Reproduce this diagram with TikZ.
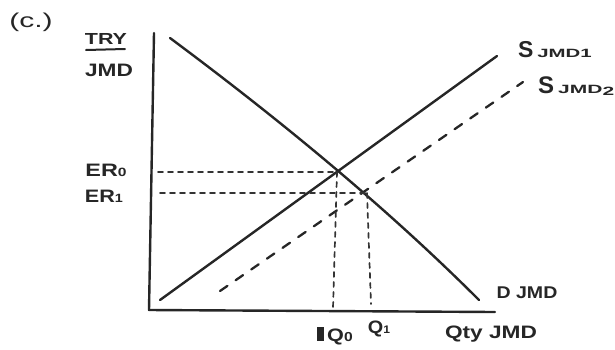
\documentclass[tikz,border=0pt]{standalone}
\usepackage{fontspec}
\setmainfont{Liberation Sans}
\newcommand{\fs}[1]{\fontsize{#1}{#1}\selectfont}
\newcommand{\sx}[2]{\scalebox{#1}[1]{#2}}
\begin{document}
\begin{tikzpicture}[x=1pt,y=-1pt,line cap=round,line join=round,
  curveline/.style={line width=2.4pt,black!85},
  guide/.style={line width=1.7pt,black!80,dash pattern=on 5pt off 5pt},
  shiftline/.style={line width=2.3pt,black!85,dash pattern=on 9pt off 10pt},
  lbl/.style={inner sep=0pt,text=black!85,font=\bfseries}]
\useasboundingbox (0,0) rectangle (615,349);
% axes
\coordinate (ytop) at (154,33);
\coordinate (orig) at (149,310);
\coordinate (xend) at (495,312);
\draw[curveline] (ytop) -- (orig) -- (xend);
% curves
\coordinate (d0) at (170,38);
\coordinate (d1) at (479,300);
\coordinate (s10) at (160,300);
\coordinate (s11) at (497,56);
\coordinate (s20) at (220,291);
\coordinate (s21) at (523,82);
\draw[curveline] (d0) .. controls (291,128) and (394,215) .. (d1);
\draw[curveline] (s10) -- (s11);
\draw[shiftline] (s20) -- (s21);
% equilibrium guides
\coordinate (e0) at (337,172);
\coordinate (e1) at (367,193);
\coordinate (er0) at (158,172);
\coordinate (er1) at (160,193);
\coordinate (q0) at (333,308);
\coordinate (q1) at (371,304);
\draw[guide] (er0) -- (e0);
\draw[guide] (e0) -- (q0);
\draw[guide] (er1) -- (e1);
\draw[guide] (e1) -- (q1);
% labels
\node[lbl,font=\fs{20}] (c) at (31,22) {\sx{1.5}{(c.)}};
\node[lbl,font=\bfseries\fs{16}] (try) at (106,39) {\sx{1.34}{TRY}};
\draw[line width=2pt,black!85] (86,50) -- (125,49);
\node[lbl,font=\bfseries\fs{18}] (jmd) at (109,70) {\sx{1.26}{JMD}};
\node[lbl,font=\bfseries\fs{18}] (ler0) at (106,170) {\sx{1.3}{ER{\fs{12}0}}};
\node[lbl,font=\bfseries\fs{18}] (ler1) at (104,196) {\sx{1.2}{ER{\fs{12}1}}};
\node[lbl,font=\bfseries\fs{18},anchor=west] (lq0) at (317,336) {\rule{7pt}{14pt}\,\sx{1.2}{Q{\fs{13}0}}};
\node[lbl,font=\bfseries\fs{18}] (lq1) at (379,329) {\sx{1.1}{Q{\fs{11}1}}};
\node[lbl,font=\bfseries\fs{18}] (qty) at (491,334) {\sx{1.26}{Qty JMD}};
\node[lbl,font=\bfseries\fs{17}] (dj) at (527,293) {\sx{1.15}{D JMD}};
\node[lbl,font=\bfseries\fs{23},anchor=west] (s1) at (518,50) {S\,{\fs{12}\sx{1.7}{JMD1}}};
\node[lbl,font=\bfseries\fs{24},anchor=west] (s2) at (538,86) {S\,{\fs{12}\sx{1.75}{JMD\raisebox{-2pt}{2}}}};
\end{tikzpicture}
\end{document}
